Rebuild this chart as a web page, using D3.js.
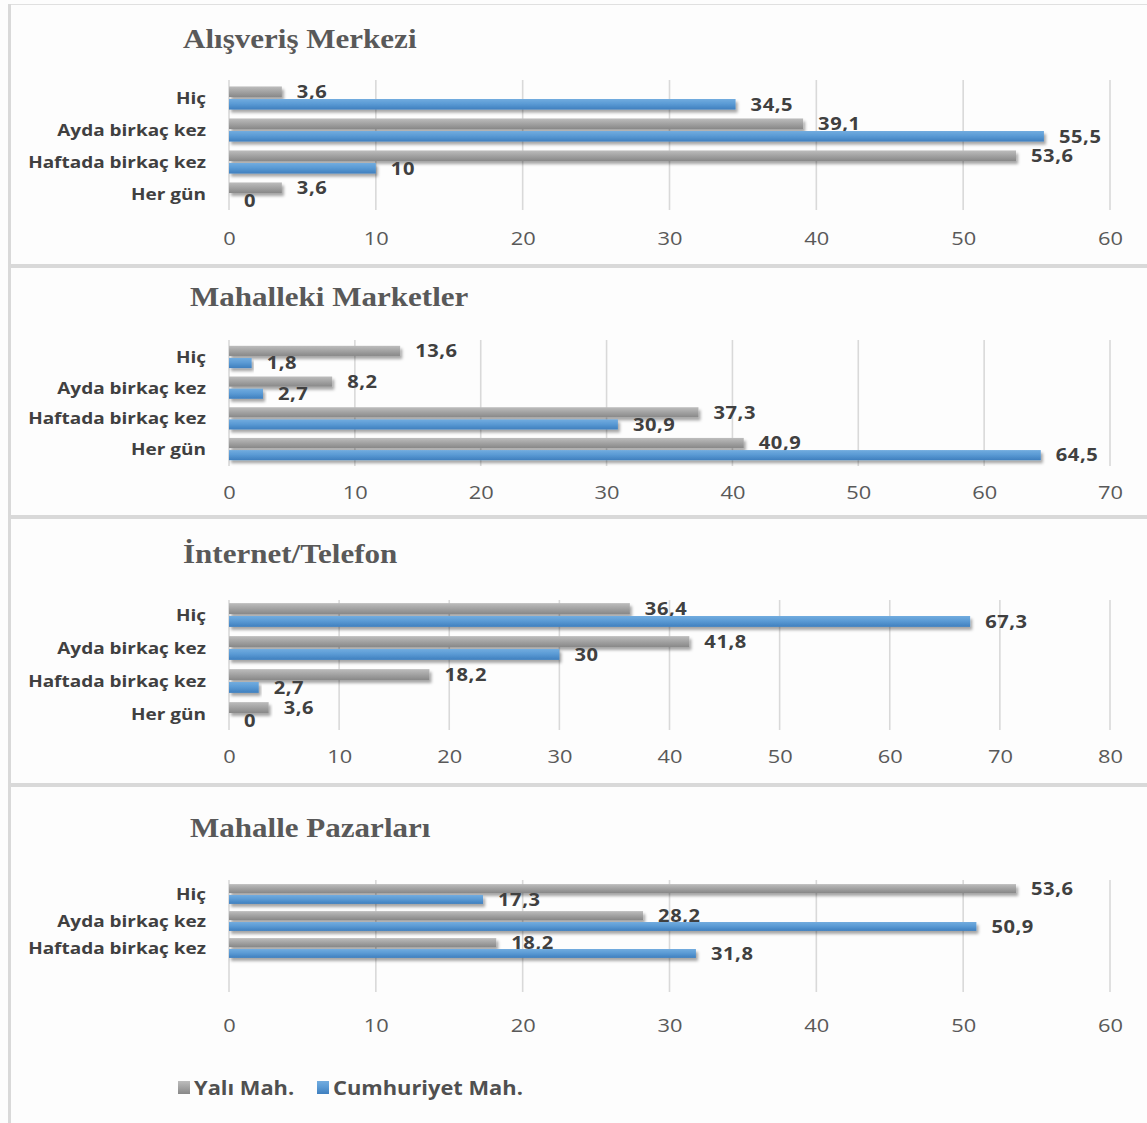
<!DOCTYPE html>
<html><head><meta charset="utf-8">
<script src="https://cdn.jsdelivr.net/npm/d3@7"></script>
<style>
html,body{margin:0;padding:0;background:#fdfdfd;}
svg{display:block;}
</style></head>
<body>
<script>
// ---------- data ----------
const seriesNames = ["Yalı Mah.", "Cumhuriyet Mah."];
const titles = ["Alışveriş Merkezi", "Mahalleki Marketler", "İnternet/Telefon", "Mahalle Pazarları"];
const categories = ["Hiç", "Ayda birkaç kez", "Haftada birkaç kez", "Her gün"];
const categoriesPazar = ["Hiç", "Ayda birkaç kez", "Haftada birkaç kez", ""];
const avmYali = [3.6, 39.1, 53.6, 3.6];
const avmCumhuriyet = [34.5, 55.5, 10, 0];
const marketYali = [13.6, 8.2, 37.3, 40.9];
const marketCumhuriyet = [1.8, 2.7, 30.9, 64.5];
const internetYali = [36.4, 41.8, 18.2, 3.6];
const internetCumhuriyet = [67.3, 30, 2.7, 0];
const pazarYali = [53.6, 28.2, 18.2, null];
const pazarCumhuriyet = [17.3, 50.9, 31.8, null];
const axisMax = [60, 70, 80, 60];
const tickStep = 10;

// ---------- layout ----------
const W = 1147, H = 1123, SX = 1.15;
const X0 = 229, X1 = 1110;
const layout = [
  {titleX:183, titleY:48,  gridTop:80,  gridBottom:210, bandTop:82,    bandBottom:210,   tickY:245},
  {titleX:190, titleY:306, gridTop:340, gridBottom:466, bandTop:341.6, bandBottom:464.4, tickY:499},
  {titleX:183, titleY:563, gridTop:600, gridBottom:730, bandTop:598.5, bandBottom:730.5, tickY:763},
  {titleX:190, titleY:837, gridTop:880, gridBottom:992, bandTop:880.5, bandBottom:988.5, tickY:1032}
];
const panels = [
  {cats: categories, a: avmYali, b: avmCumhuriyet},
  {cats: categories, a: marketYali, b: marketCumhuriyet},
  {cats: categories, a: internetYali, b: internetCumhuriyet},
  {cats: categoriesPazar, a: pazarYali, b: pazarCumhuriyet}
];
const colors = ["grey", "blue"];

const svg = d3.select("body").append("svg").attr("width", W).attr("height", H);
const defs = svg.append("defs");
function grad(id, c0, c1, c2) {
  const g = defs.append("linearGradient").attr("id", id).attr("x1",0).attr("y1",0).attr("x2",0).attr("y2",1);
  g.append("stop").attr("offset","0%").attr("stop-color",c0);
  g.append("stop").attr("offset","45%").attr("stop-color",c1);
  g.append("stop").attr("offset","100%").attr("stop-color",c2);
}
grad("grey", "#bdbdbd", "#a5a5a5", "#888888");
grad("blue", "#72acdf", "#5b9bd5", "#3f7fbe");
const f = defs.append("filter").attr("id","sh").attr("x","-5%").attr("y","-50%").attr("width","115%").attr("height","250%");
f.append("feDropShadow").attr("dx",2).attr("dy",3).attr("stdDeviation",1.8).attr("flood-color","#000").attr("flood-opacity",0.35);

svg.append("rect").attr("width",W).attr("height",H).attr("fill","#fdfdfd");
// frame lines
svg.append("rect").attr("x",8).attr("y",4).attr("width",3).attr("height",H-4).attr("fill","#d9d9d9");
svg.append("rect").attr("x",11).attr("y",4).attr("width",W-11).attr("height",1).attr("fill","#e0e0e0");
[264, 515, 783].forEach(y => svg.append("rect").attr("x",8).attr("y",y).attr("width",W-8).attr("height",4).attr("fill","#d9d9d9"));

const fmt = v => String(v).replace(".", ",");

panels.forEach((p, i) => {
  const L = layout[i];
  const g = svg.append("g");
  const x = d3.scaleLinear().domain([0, axisMax[i]]).range([X0, X1]);
  const y = d3.scaleBand().domain(p.cats).range([L.bandTop, L.bandBottom]);
  const step = y.step();
  const bh = step * 0.33;

  // title
  g.append("text").attr("transform", `translate(${L.titleX},${L.titleY}) scale(${SX},1)`)
    .attr("font-family","'Liberation Serif','Times New Roman',serif").attr("font-weight","bold")
    .attr("font-size",27).attr("fill","#595959").text(titles[i]);

  // grid
  const ticks = d3.range(0, axisMax[i] + 0.001, tickStep);
  g.append("g").selectAll("line").data(ticks).join("line")
    .attr("x1", d => x(d)).attr("x2", d => x(d)).attr("y1", L.gridTop).attr("y2", L.gridBottom)
    .attr("stroke","#d9d9d9").attr("stroke-width",1.6);

  // axis labels
  const ax = g.append("g").attr("transform", `translate(0,${L.tickY})`)
    .call(d3.axisBottom(x).tickValues(ticks).tickSize(0).tickPadding(0).tickFormat(d3.format("d")));
  ax.select(".domain").remove();
  ax.selectAll("text").attr("y",0).attr("dy",0).attr("transform",`scale(${SX},1)`)
    .attr("font-family","'Open Sans',sans-serif").attr("font-size",19).attr("fill","#595959");

  // category labels
  g.append("g").selectAll("text").data(p.cats).join("text")
    .attr("transform", d => `translate(206,${y(d) + step/2}) scale(${SX},1)`)
    .attr("dy","0.36em").attr("text-anchor","end")
    .attr("font-family","'Open Sans',sans-serif").attr("font-weight","bold").attr("font-size",16.5)
    .attr("fill","#404040").text(d => d);

  // bars
  [p.a, p.b].forEach((vals, s) => {
    const rows = p.cats.map((c, k) => ({c, v: vals[k]})).filter(r => r.v !== null);
    const yy = r => s === 0 ? y(r.c) + step/2 - 1 - bh : y(r.c) + step/2 + 1;
    g.append("g").selectAll("rect").data(rows).join("rect")
      .attr("x", X0).attr("y", yy).attr("height", bh)
      .attr("width", r => x(r.v) - X0)
      .attr("fill", `url(#${colors[s]})`).attr("filter", r => r.v > 0 ? "url(#sh)" : null);
    g.append("g").selectAll("text").data(rows).join("text")
      .attr("transform", r => `translate(${x(r.v) + 15},${yy(r) + bh/2}) scale(${SX},1)`)
      .attr("dy","0.36em")
      .attr("font-family","'Open Sans',sans-serif").attr("font-weight","bold").attr("font-size",17.5)
      .attr("letter-spacing",0.5).attr("fill","#404040").text(r => fmt(r.v));
  });
});

// legend
const leg = svg.append("g");
const legX = [178, 317];
seriesNames.forEach((n, s) => {
  leg.append("rect").attr("x", legX[s]).attr("y", 1081).attr("width", 12).attr("height", 13)
    .attr("fill", `url(#${colors[s]})`);
  leg.append("text").attr("transform", `translate(${legX[s] + 16},1095) scale(${SX},1)`)
    .attr("font-family","'Open Sans',sans-serif").attr("font-weight","bold").attr("font-size",19)
    .attr("fill","#505050").text(n);
});
</script>
</body></html>
